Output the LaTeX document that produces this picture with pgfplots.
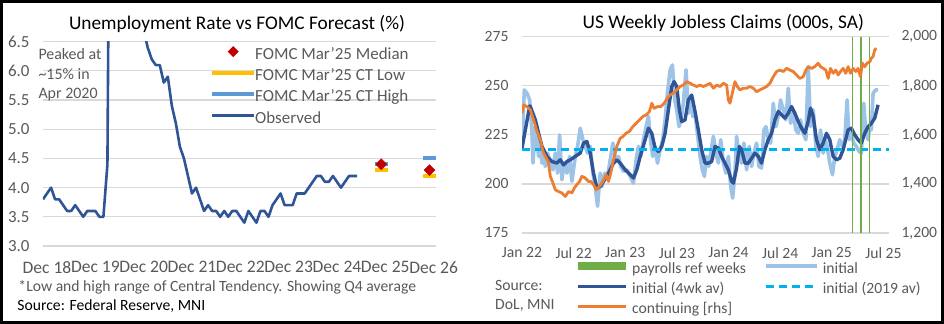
\documentclass[border=0pt]{standalone}
\usepackage{fontspec}
\setmainfont{Carlito}
\usepackage{pgfplots}
\pgfplotsset{compat=1.18}
\definecolor{gridc}{HTML}{D9D9D9}
\definecolor{txtc}{HTML}{595959}
\definecolor{obsblue}{HTML}{2F5597}
\definecolor{ltblue}{HTML}{9DC3E6}
\definecolor{cyanc}{HTML}{00B0F0}
\definecolor{orangec}{HTML}{ED7D31}
\definecolor{greenc}{HTML}{70AD47}
\definecolor{goldc}{HTML}{FFC000}
\definecolor{hiblue}{HTML}{5B9BD5}
\definecolor{redc}{HTML}{C00000}
\pgfplotsset{
  excelaxis/.style={
    scale only axis,
    axis line style={draw=none},
    major tick style={draw=none},
    ymajorgrids,
    grid style={gridc, line width=1.2bp},
    /pgf/number format/assume math mode=true,
    legend cell align=left,
  }
}
\tikzset{bbx/.style={draw=none, fill=none, use as bounding box}}
\begin{document}
\begin{tikzpicture}
\useasboundingbox (0,0) rectangle (944bp,324bp);
\draw[line width=2.6bp] (1.3bp,1.3bp) rectangle (942.7bp,322.7bp);

% ---------------- LEFT PANEL ----------------
\begin{axis}[excelaxis,
  at={(43bp,78bp)}, anchor=south west,
  width=393bp, height=204.3bp,
  xmin=-1, xmax=96.6, ymin=3, ymax=6.5,
  xtick={0,12,24,36,48,60,72,84,96},
  xticklabels={Dec 18,Dec 19,Dec 20,Dec 21,Dec 22,Dec 23,Dec 24,Dec 25,Dec 26},
  ytick={3,3.5,4,4.5,5,5.5,6,6.5},
  tick label style={font=\fontsize{17}{20}\selectfont, text=txtc},
  y tick label style={/pgf/number format/fixed, /pgf/number format/fixed zerofill, /pgf/number format/precision=1, xshift=-10bp},
  x tick label style={yshift=-12bp, font=\fontsize{17.6}{20}\selectfont},
  legend style={draw=none, fill=none, at={(axis description cs:0.43,0.985)}, anchor=north west,
    inner sep=0pt, font=\fontsize{17}{20}\selectfont, text=txtc,
    nodes={inner xsep=0pt, inner ysep=2.6bp, text height=12bp, text depth=4bp},
    /tikz/every odd column/.append style={column sep=1bp}},
]
\addlegendimage{legend image code/.code={\path[bbx] (0bp,0bp) rectangle (42bp,8bp);
  \fill[redc, draw=none] (21bp,9.5bp) -- (26.5bp,4bp) -- (21bp,-1.5bp) -- (15.5bp,4bp) -- cycle;}}
\addlegendentry{FOMC Mar'25 Median}
\addlegendimage{legend image code/.code={\path[bbx] (0bp,0bp) rectangle (42bp,8bp);
  \draw[goldc, line width=4bp] (0bp,4bp) -- (42bp,4bp);}}
\addlegendentry{FOMC Mar'25 CT Low}
\addlegendimage{legend image code/.code={\path[bbx] (0bp,0bp) rectangle (42bp,8bp);
  \draw[hiblue, line width=4bp] (0bp,4bp) -- (42bp,4bp);}}
\addlegendentry{FOMC Mar'25 CT High}
\addlegendimage{legend image code/.code={\path[bbx] (0bp,0bp) rectangle (42bp,8bp);
  \draw[obsblue, line width=2.8bp] (0bp,4bp) -- (42bp,4bp);}}
\addlegendentry{Observed}

\addplot[obsblue, line width=2.6bp, line join=round, forget plot] coordinates {
(-1,3.8)(0,3.9)(1,4.0)(2,3.8)(3,3.8)(4,3.7)(5,3.6)(6,3.6)(7,3.7)(8,3.6)(9,3.5)(10,3.6)(11,3.6)(12,3.6)(13,3.5)(14,3.5)
(15,4.4)(16,14.8)(17,13.2)(18,11.0)(19,10.2)(20,8.4)(21,7.8)(22,6.9)(23,6.7)(24,6.7)
(25,6.4)(26,6.2)(27,6.1)(28,6.1)(29,5.8)(30,5.9)(31,5.4)(32,5.1)(33,4.7)(34,4.5)(35,4.2)(36,3.9)
(37,4.0)(38,3.8)(39,3.6)(40,3.7)(41,3.6)(42,3.6)(43,3.5)(44,3.6)(45,3.5)(46,3.6)(47,3.6)(48,3.5)
(49,3.4)(50,3.6)(51,3.5)(52,3.4)(53,3.6)(54,3.6)(55,3.5)(56,3.7)(57,3.8)(58,3.9)(59,3.7)(60,3.7)
(61,3.7)(62,3.9)(63,3.9)(64,3.9)(65,4.0)(66,4.1)(67,4.2)(68,4.2)(69,4.1)(70,4.1)(71,4.2)(72,4.1)
(73,4.0)(74,4.1)(75,4.2)(76,4.2)(77,4.2)
};
\addplot[hiblue, only marks, mark=-, mark size=6.7bp, mark options={line width=4bp}, forget plot]
  coordinates {(83,4.4)(95,4.5)};
\addplot[goldc, only marks, mark=-, mark size=6.7bp, mark options={line width=4bp}, forget plot]
  coordinates {(83,4.3)(95,4.2)};
\addplot[redc, only marks, mark=square*, mark size=3.9bp, mark options={rotate=45, fill=redc, draw=redc}, forget plot]
  coordinates {(83,4.4)(95,4.3)};
\end{axis}

\node[anchor=base, font=\fontsize{19.4}{22}\selectfont, inner sep=0pt] at (237bp,294.7bp) {Unemployment Rate vs FOMC Forecast (\%)};
\node[anchor=base west, font=\fontsize{16}{19}\selectfont, text=txtc, inner sep=0pt] at (38.3bp,264bp) {Peaked at};
\node[anchor=base west, font=\fontsize{16}{19}\selectfont, text=txtc, inner sep=0pt] at (38.3bp,244.7bp) {\textasciitilde15\% in};
\node[anchor=base west, font=\fontsize{16}{19}\selectfont, text=txtc, inner sep=0pt] at (38.3bp,225bp) {Apr 2020};
\node[anchor=base west, font=\fontsize{15.7}{19}\selectfont, text=txtc, inner sep=0pt] at (18.3bp,32.3bp) {*Low and high range of Central Tendency. Showing Q4 average};
\node[anchor=base west, font=\fontsize{15.7}{19}\selectfont, inner sep=0pt] at (17.3bp,14bp) {Source: Federal Reserve, MNI};

% ---------------- RIGHT PANEL ----------------
\begin{axis}[excelaxis,
  at={(522bp,91bp)}, anchor=south west,
  width=367bp, height=196.3bp,
  xmin=0, xmax=42.65, ymin=175, ymax=275,
  xtick={0,6,12,18,24,30,36,42},
  xticklabels={Jan 22,Jul 22,Jan 23,Jul 23,Jan 24,Jul 24,Jan 25,Jul 25},
  ytick={175,200,225,250,275},
  tick label style={font=\fontsize{15.7}{18}\selectfont, text=txtc},
  y tick label style={xshift=-10bp},
  x tick label style={yshift=-11bp},
  legend columns=2,
  legend style={draw=none, fill=none, at={(axis description cs:0.1526,-0.1375)}, anchor=north west,
    inner sep=0pt, font=\fontsize{15.7}{18}\selectfont, text=txtc,
    nodes={inner xsep=0pt, inner ysep=2.5bp, text height=11bp, text depth=4bp},
    /tikz/every odd column/.append style={column sep=6bp},
    /tikz/every even column/.append style={column sep=20bp}},
]
\addlegendimage{legend image code/.code={\path[bbx] (0bp,0bp) rectangle (48bp,7.4bp);
  \fill[greenc, draw=none] (0bp,-0.3bp) rectangle (48bp,7.7bp);}}
\addlegendentry{payrolls ref weeks}
\addlegendimage{legend image code/.code={\path[bbx] (0bp,0bp) rectangle (51bp,7.4bp);
  \draw[ltblue, line width=4bp] (0bp,3.7bp) -- (51bp,3.7bp);}}
\addlegendentry{initial}
\addlegendimage{legend image code/.code={\path[bbx] (0bp,0bp) rectangle (48bp,7.4bp);
  \draw[obsblue, line width=3.5bp] (0bp,3.7bp) -- (48bp,3.7bp);}}
\addlegendentry{initial (4wk av)}
\addlegendimage{legend image code/.code={\path[bbx] (0bp,0bp) rectangle (51bp,7.4bp);
  \draw[cyanc, line width=2.5bp, dash pattern=on 8bp off 5bp] (0bp,3.7bp) -- (51bp,3.7bp);}}
\addlegendentry{initial (2019 av)}
\addlegendimage{legend image code/.code={\path[bbx] (0bp,0bp) rectangle (48bp,7.4bp);
  \draw[orangec, line width=3bp] (0bp,3.7bp) -- (48bp,3.7bp);}}
\addlegendentry{continuing [rhs]}

% initial (weekly)
\addplot[ltblue, line width=3.6bp, line join=round, forget plot] coordinates {
(0,219.1)(0.27,247.9)(0.58,246.2)(0.89,242.8)(1.16,225.8)(1.28,210.6)(1.55,229.2)(1.74,222.5)(1.93,214.0)
(2.13,219.1)(2.32,210.6)(2.51,214.0)(2.71,208.9)(2.98,215.7)(3.29,210.6)(3.60,207.2)(3.87,215.7)(4.14,205.5)
(4.37,225.0)(4.64,202.1)(4.91,210.6)(5.22,205.5)(5.53,214.0)(5.80,201.3)(6.19,214.0)(6.46,219.1)(6.77,228.4)
(7.08,222.5)(7.35,219.1)(7.62,215.7)(7.93,219.1)(8.24,205.5)(8.51,198.7)(8.78,188.6)(9.09,205.5)(9.32,198.7)
(9.63,205.5)(9.94,203.8)(10.25,212.3)(10.56,220.8)(10.87,212.3)(11.21,214.0)(11.48,208.9)(11.79,206.4)
(12.18,207.2)(12.57,203.8)(12.95,200.4)(13.26,212.3)(13.53,219.1)(13.81,214.0)(14.11,222.5)(14.42,229.2)
(14.69,234.3)(14.97,220.8)(15.20,214.0)(15.47,219.1)(15.74,210.6)(16.05,217.4)(16.36,222.5)(16.63,232.6)
(16.90,246.2)(17.21,258.1)(17.48,260.6)(17.75,242.8)(17.98,237.7)(18.25,229.2)(18.48,232.6)(18.75,241.1)
(19.06,258.1)(19.33,236.0)(19.61,242.8)(19.84,234.3)(20.11,236.0)(20.38,225.8)(20.69,214.0)(20.96,207.2)
(21.19,203.8)(21.46,214.0)(21.69,208.9)(21.93,215.7)(22.24,224.2)(22.54,215.7)(22.82,210.6)(23.09,222.5)
(23.40,210.6)(23.70,205.5)(23.98,214.0)(24.25,198.7)(24.48,192.8)(24.75,205.5)(24.94,224.2)(25.25,214.0)
(25.52,210.6)(25.79,220.8)(26.10,207.2)(26.41,219.1)(26.68,208.9)(26.95,215.7)(27.26,220.8)(27.53,208.9)
(27.84,208.1)(28.11,227.5)(28.35,229.2)(28.62,222.5)(28.89,220.8)(29.20,241.1)(29.51,229.2)(29.78,234.3)
(30.05,242.8)(30.36,237.7)(30.66,232.6)(30.94,248.7)(31.21,230.9)(31.52,236.0)(31.83,227.5)(32.10,225.8)
(32.37,232.6)(32.68,225.8)(32.99,222.5)(33.26,259.7)(33.53,229.2)(33.84,237.7)(34.15,219.1)(34.42,214.0)
(34.69,227.5)(35.00,215.7)(35.23,222.5)(35.46,219.1)(35.77,210.6)(36.08,204.7)(36.35,214.0)(36.62,217.4)
(36.93,222.5)(37.24,219.1)(37.51,222.5)(37.78,242.8)(38.01,222.5)(38.28,225.8)(38.55,220.8)(38.86,219.1)
(39.17,216.5)(39.44,215.7)(39.71,241.1)(39.94,227.5)(40.22,222.5)(40.41,229.2)(40.60,227.5)(40.80,246.2)
(41.11,247.9)(41.38,247.9)
};
% initial 4wk av
\addplot[obsblue, line width=3.4bp, line join=round, forget plot] coordinates {
(0,218.2)(0.89,239.7)(0.97,239.4)(1.55,232.6)(1.93,225.8)(2.32,219.1)(2.90,214.0)(3.48,211.4)(4.06,210.6)
(4.45,212.3)(4.83,209.7)(5.22,211.4)(5.61,212.3)(6.19,214.0)(6.77,215.7)(7.15,220.8)(7.54,221.6)(7.93,215.7)
(8.31,205.5)(8.70,197.9)(9.09,198.7)(9.47,201.3)(9.86,203.8)(10.25,207.2)(10.63,210.6)(11.02,212.3)
(11.41,210.6)(11.99,207.2)(12.57,204.7)(12.95,203.0)(13.34,207.2)(13.73,214.0)(14.31,222.5)(14.69,228.4)
(15.08,225.8)(15.47,218.2)(15.85,216.5)(16.24,219.1)(16.63,225.8)(17.01,237.7)(17.40,249.6)(17.67,252.1)
(17.98,249.6)(18.29,237.7)(18.56,231.8)(18.95,232.6)(19.33,242.8)(19.72,245.3)(20.11,236.9)(20.49,227.5)
(20.88,217.4)(21.27,210.6)(21.66,210.6)(22.04,211.4)(22.43,219.1)(22.82,218.2)(23.20,214.0)(23.59,210.6)
(23.98,207.2)(24.36,201.3)(24.56,200.4)(24.94,208.1)(25.25,219.1)(25.52,217.4)(25.91,210.6)(26.30,210.6)
(26.68,213.1)(27.07,215.7)(27.46,214.0)(27.84,210.6)(28.23,217.4)(28.62,222.5)(29.00,225.8)(29.39,232.6)
(29.78,236.9)(30.16,235.2)(30.55,233.5)(30.94,236.0)(31.32,239.4)(31.71,236.0)(32.10,231.8)(32.48,228.4)
(32.87,225.8)(33.26,231.8)(33.53,238.6)(33.84,234.4)(34.22,222.5)(34.61,217.4)(35.00,220.8)(35.38,225.8)
(35.77,222.5)(36.16,214.0)(36.54,212.3)(36.93,213.1)(37.32,217.4)(37.90,227.5)(38.28,228.4)(38.67,225.0)
(39.06,222.5)(39.44,220.8)(39.83,225.8)(40.22,229.2)(40.60,230.9)(40.99,233.5)(41.38,240.3)
};
% 2019 average
\addplot[cyanc, line width=2.5bp, dash pattern=on 8bp off 5bp, forget plot] coordinates {(0,217.5)(42.65,217.5)};
% payrolls reference weeks
\addplot[greenc, line width=1.1bp, forget plot] coordinates {(38.4,175)(38.4,275)};
\addplot[greenc, line width=1.1bp, forget plot] coordinates {(39.4,175)(39.4,275)};
\addplot[greenc, line width=1.1bp, forget plot] coordinates {(40.4,175)(40.4,275)};
\end{axis}

\begin{axis}[excelaxis,
  at={(522bp,91bp)}, anchor=south west,
  width=367bp, height=196.3bp,
  xmin=0, xmax=42.65, ymin=1200, ymax=2000,
  ymajorgrids=false,
  axis x line=none, axis y line*=right,
  ytick={1200,1400,1600,1800,2000},
  tick label style={font=\fontsize{15.7}{18}\selectfont, text=txtc},
  y tick label style={/pgf/number format/1000 sep={,}, xshift=9bp},
]
\addplot[orangec, line width=2.8bp, line join=round] coordinates {
(0,1688)(0.19,1722)(0.58,1715)(0.97,1702)(1.35,1661)(1.74,1614)(2.13,1580)(2.44,1532)(2.71,1512)(3.05,1491)
(3.29,1431)(3.60,1403)(3.87,1376)(4.25,1369)(4.64,1363)(5.03,1349)(5.41,1369)(5.80,1363)(6.07,1383)(6.38,1397)
(6.69,1410)(6.96,1431)(7.35,1424)(7.73,1410)(8.00,1410)(8.31,1397)(8.62,1376)(9.01,1390)(9.40,1410)(9.78,1437)
(10.05,1410)(10.32,1444)(10.63,1498)(11.02,1553)(11.41,1586)(11.72,1593)(12.10,1607)(12.49,1614)(12.88,1634)
(13.26,1647)(13.65,1661)(14.04,1675)(14.42,1681)(14.81,1695)(15.08,1729)(15.35,1708)(15.74,1715)(16.13,1715)
(16.51,1729)(16.90,1749)(17.21,1763)(17.59,1769)(17.98,1783)(18.37,1797)(18.75,1803)(19.14,1817)(19.53,1810)
(19.91,1803)(20.30,1797)(20.69,1803)(21.07,1797)(21.46,1803)(21.85,1810)(22.24,1790)(22.62,1803)(23.01,1797)
(23.40,1810)(23.78,1803)(23.98,1742)(24.17,1729)(24.48,1776)(24.75,1817)(25.02,1797)(25.33,1783)(25.72,1790)
(26.10,1790)(26.49,1797)(26.88,1790)(27.26,1776)(27.65,1783)(28.04,1790)(28.42,1797)(28.81,1810)(29.20,1837)
(29.58,1858)(29.97,1864)(30.36,1858)(30.74,1871)(31.13,1864)(31.52,1858)(31.90,1844)(32.29,1830)(32.68,1837)
(32.99,1864)(33.26,1878)(33.64,1871)(34.03,1878)(34.42,1892)(34.69,1878)(35.00,1871)(35.31,1864)(35.58,1830)
(35.85,1871)(36.16,1851)(36.47,1864)(36.74,1844)(37.01,1858)(37.32,1871)(37.63,1851)(37.90,1878)(38.17,1851)
(38.48,1871)(38.79,1858)(39.06,1871)(39.33,1837)(39.56,1892)(39.83,1878)(40.10,1892)(40.41,1898)(40.60,1912)
(40.80,1919)(40.99,1946)(41.18,1953)
};
\end{axis}

\node[anchor=base, font=\fontsize{19.4}{22}\selectfont, inner sep=0pt] at (723.3bp,295.7bp) {US Weekly Jobless Claims (000s, SA)};
\node[anchor=base west, font=\fontsize{15.7}{18}\selectfont, text=txtc, inner sep=0pt] at (495bp,33.3bp) {Source:};
\node[anchor=base west, font=\fontsize{15.7}{18}\selectfont, text=txtc, inner sep=0pt] at (495bp,14.7bp) {DoL, MNI};
\end{tikzpicture}
\end{document}
